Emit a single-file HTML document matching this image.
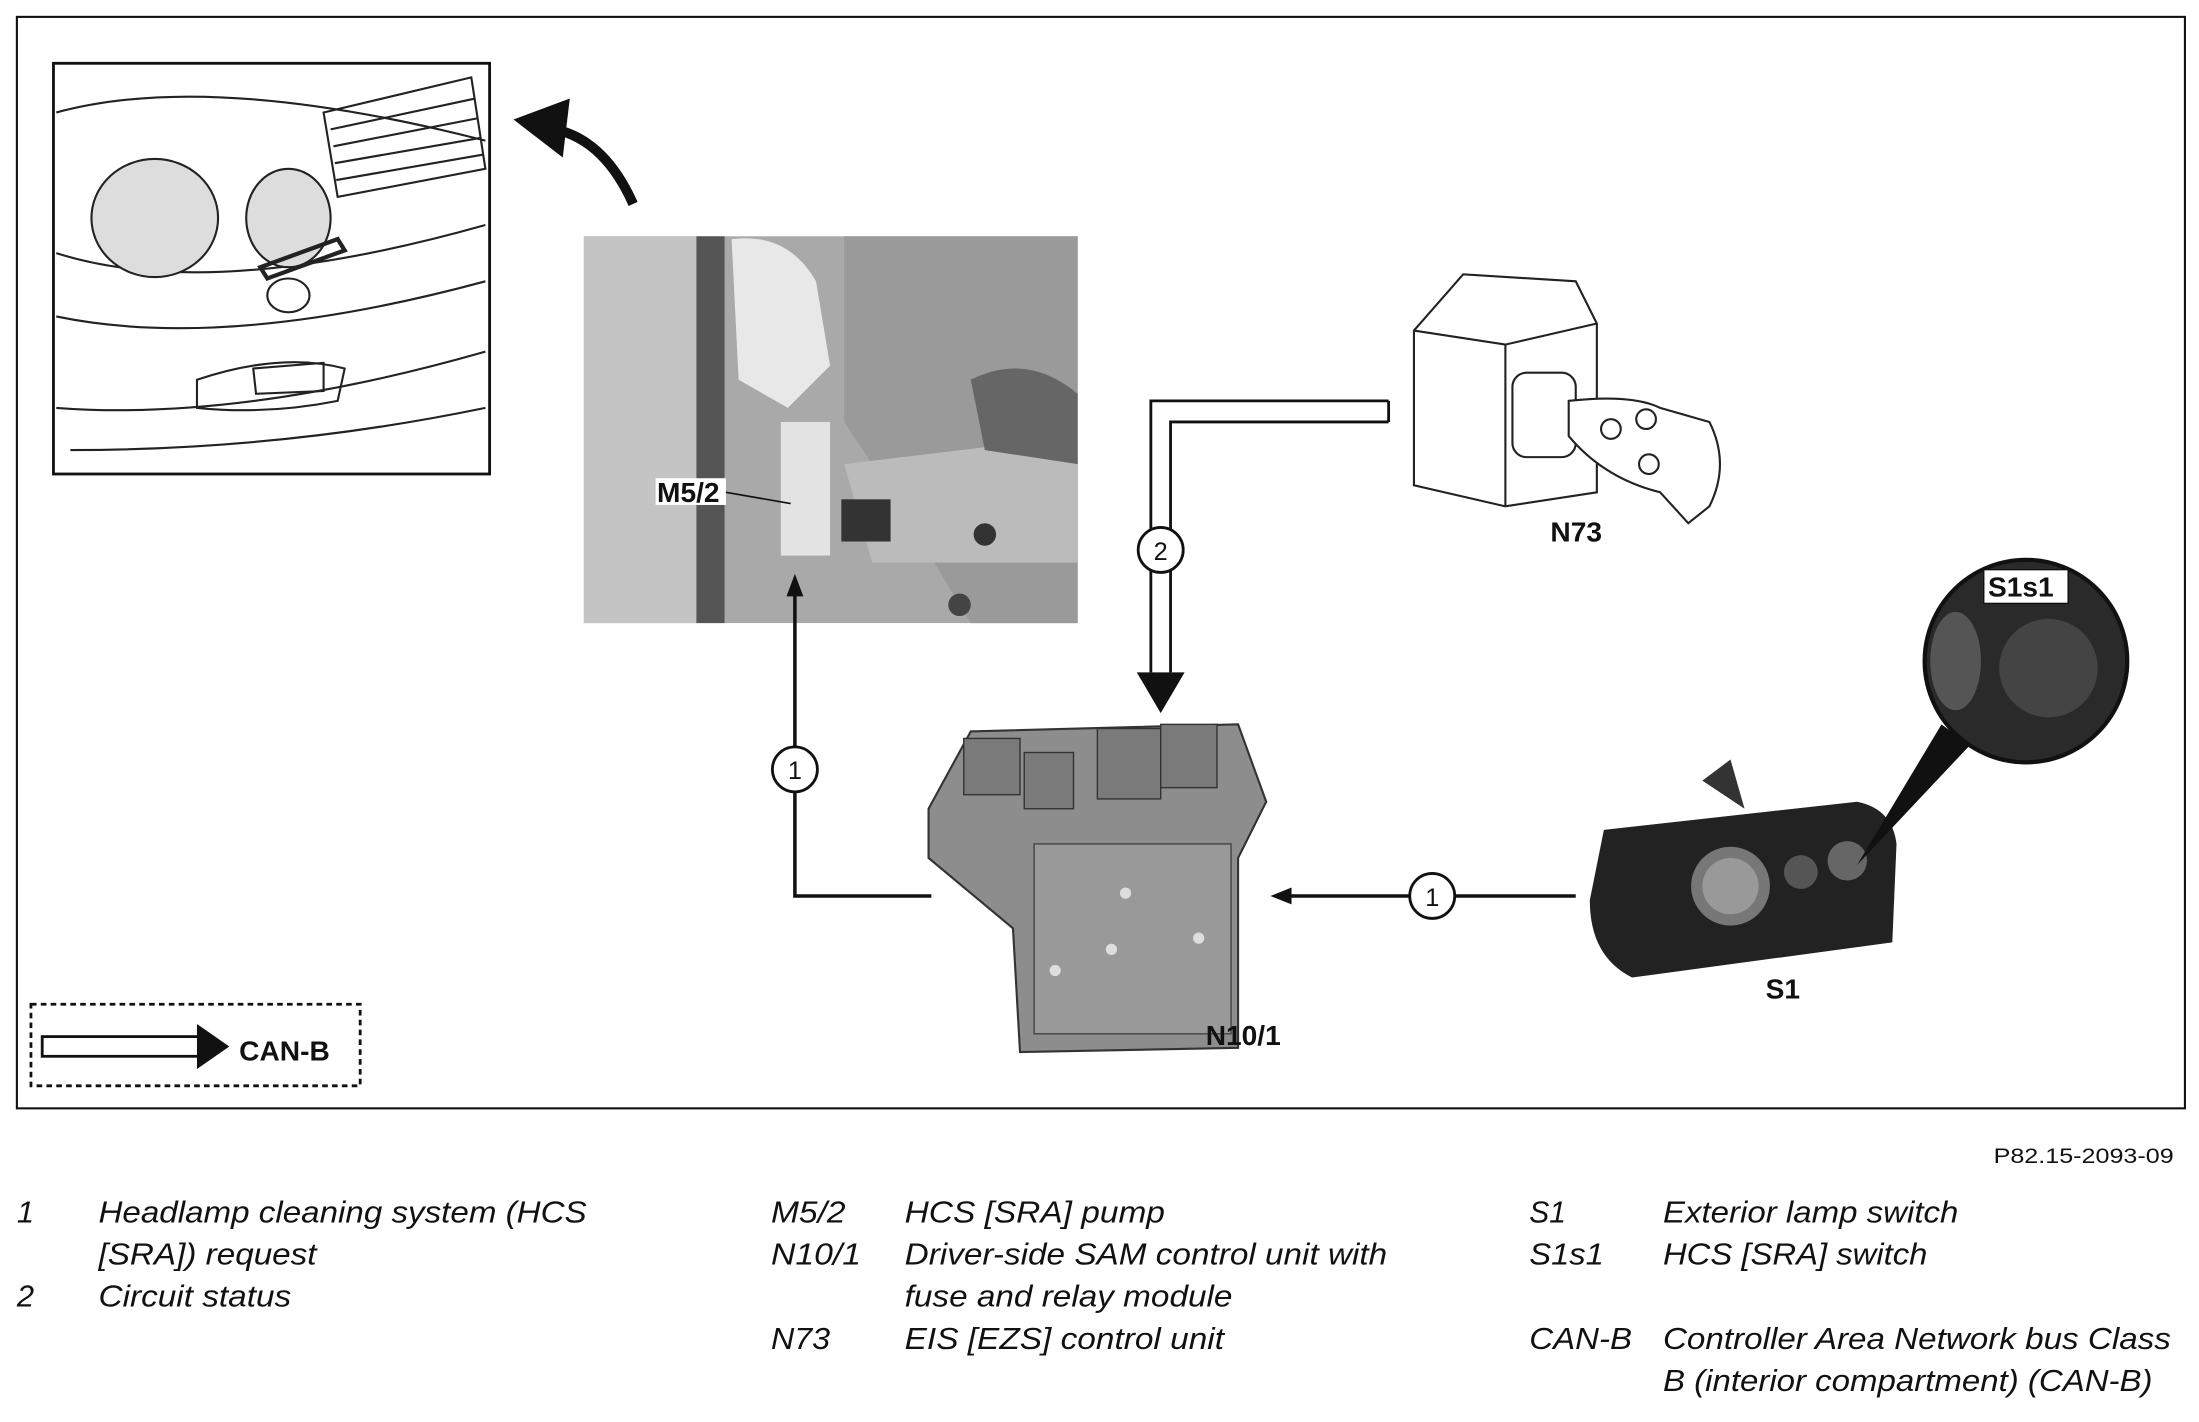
<!DOCTYPE html>
<html><head><meta charset="utf-8"><style>
html,body{margin:0;padding:0;background:#fff}
svg{display:block}
.lg{font-family:"Liberation Sans",sans-serif;font-style:italic;font-size:22px;fill:#111}
.lb{font-family:"Liberation Sans",sans-serif;font-weight:bold;font-size:20px;fill:#111}
.cn{font-family:"Liberation Sans",sans-serif;font-size:18px;fill:#111;text-anchor:middle}
</style></head><body>
<svg width="2199" height="1422" viewBox="0 0 1563 1011" preserveAspectRatio="none" xmlns="http://www.w3.org/2000/svg">
<rect x="0" y="0" width="1563" height="1011" fill="#fff"/>
<rect x="12" y="12" width="1541" height="776" fill="none" stroke="#111" stroke-width="1.5"/>

<!-- car sketch -->
<rect x="38" y="45" width="310" height="292" fill="#fff" stroke="#111" stroke-width="2"/>
<g fill="none" stroke="#222" stroke-width="1.5">
<path d="M40 80 Q150 50 345 100"/>
<path d="M40 180 Q150 215 345 160"/>
<path d="M40 225 Q160 250 345 200"/>
<path d="M40 290 Q170 300 345 250"/>
<path d="M50 320 Q200 320 345 290"/>
<ellipse cx="110" cy="155" rx="45" ry="42" fill="#ddd"/>
<ellipse cx="205" cy="155" rx="30" ry="35" fill="#ddd"/>
<path d="M230 80 L335 55 L345 120 L240 140 Z"/>
<path d="M235 92 L338 70 M237 104 L340 84 M238 116 L342 98 M239 128 L343 110"/>
<path d="M185 190 L240 170 L245 178 L190 198 Z" stroke-width="3"/>
<ellipse cx="205" cy="210" rx="15" ry="12"/>
<path d="M140 270 Q200 250 245 262 L240 285 Q190 295 140 290 Z"/>
<path d="M180 262 L230 258 L230 278 L182 280 Z"/>
</g>
<!-- curved arrow -->
<path d="M450 145 Q430 100 395 92" fill="none" stroke="#111" stroke-width="7"/>
<polygon points="365,85 405,70 400,112" fill="#111"/>

<!-- photo M5/2 -->
<rect x="415" y="168" width="351" height="275" fill="#a9a9a9"/>
<rect x="415" y="168" width="80" height="275" fill="#c4c4c4"/>
<rect x="495" y="168" width="20" height="275" fill="#555"/>
<path d="M600 168 L766 168 L766 443 L690 443 L640 360 L600 300 Z" fill="#9a9a9a"/>
<path d="M520 170 Q560 165 580 200 L590 260 L560 290 L525 270 Z" fill="#e8e8e8"/>
<rect x="555" y="300" width="35" height="95" fill="#e3e3e3"/>
<path d="M600 330 L766 310 L766 400 L620 400 Z" fill="#bbb"/>
<circle cx="700" cy="380" r="8" fill="#333"/>
<circle cx="682" cy="430" r="8" fill="#444"/>
<path d="M690 270 Q730 250 766 280 L766 330 L700 320 Z" fill="#666"/>
<rect x="598" y="355" width="35" height="30" fill="#333"/>
<rect x="466" y="340" width="50" height="19" fill="#fff"/>
<text x="467" y="357" class="lb" font-size="18">M5/2</text>
<line x1="516" y1="350" x2="562" y2="358" stroke="#111" stroke-width="1.2"/>

<!-- connector 1 left -->
<polyline points="662,637 565,637 565,420" fill="none" stroke="#111" stroke-width="2.5"/>
<polygon points="565,408 559,424 571,424" fill="#111"/>
<circle cx="565" cy="547" r="16" fill="#fff" stroke="#111" stroke-width="2"/>
<text x="565" y="554" class="cn">1</text>

<!-- connector 2 double line -->
<polyline points="987,285 818,285 818,478" fill="none" stroke="#111" stroke-width="2"/>
<polyline points="987,300 832,300 832,478" fill="none" stroke="#111" stroke-width="2"/>
<line x1="987" y1="285" x2="987" y2="300" stroke="#111" stroke-width="2"/>
<polygon points="808,478 842,478 825,507" fill="#111"/>
<circle cx="825" cy="391" r="16" fill="#fff" stroke="#111" stroke-width="2"/>
<text x="825" y="398" class="cn">2</text>

<!-- N10/1 module -->
<path d="M660 575 L690 520 L880 515 L900 570 L880 610 L880 745 L725 748 L720 660 L660 610 Z" fill="#8d8d8d" stroke="#333" stroke-width="1.5"/>
<rect x="685" y="525" width="40" height="40" fill="#7a7a7a" stroke="#333"/>
<rect x="728" y="535" width="35" height="40" fill="#7a7a7a" stroke="#333"/>
<rect x="780" y="518" width="45" height="50" fill="#7a7a7a" stroke="#333"/>
<rect x="825" y="515" width="40" height="45" fill="#7a7a7a" stroke="#333"/>
<rect x="735" y="600" width="140" height="135" fill="#999" stroke="#444"/>
<circle cx="800" cy="635" r="4" fill="#ddd"/><circle cx="790" cy="675" r="4" fill="#ddd"/><circle cx="852" cy="667" r="4" fill="#ddd"/><circle cx="750" cy="690" r="4" fill="#ddd"/>
<text x="857" y="743" class="lb">N10/1</text>

<!-- connector 1 right -->
<line x1="1120" y1="637" x2="915" y2="637" stroke="#111" stroke-width="2.5"/>
<polygon points="903,637 918,631 918,643" fill="#111"/>
<circle cx="1018" cy="637" r="16" fill="#fff" stroke="#111" stroke-width="2"/>
<text x="1018" y="644" class="cn">1</text>

<!-- N73 ignition -->
<g fill="#fff" stroke="#222" stroke-width="1.5">
<path d="M1005 235 L1040 195 L1120 200 L1135 230 L1135 350 L1070 360 L1005 345 Z"/>
<path d="M1005 235 L1070 245 L1135 230"/>
<path d="M1070 245 L1070 360"/>
<rect x="1075" y="265" width="45" height="60" rx="10"/>
<path d="M1115 285 Q1160 280 1180 290 L1215 300 Q1230 330 1215 360 L1200 372 L1180 350 Q1140 340 1115 310 Z"/>
<circle cx="1145" cy="305" r="7"/><circle cx="1170" cy="298" r="7"/><circle cx="1172" cy="330" r="7"/>
</g>
<text x="1102" y="385" class="lb">N73</text>

<!-- S1 switch -->
<path d="M1140 590 L1320 570 Q1345 575 1348 600 L1345 670 L1160 695 Q1130 680 1130 640 Z" fill="#222"/>
<path d="M1210 555 L1230 540 L1240 575 Z" fill="#333"/>
<circle cx="1230" cy="630" r="28" fill="#777"/>
<circle cx="1230" cy="630" r="20" fill="#999"/>
<circle cx="1280" cy="620" r="12" fill="#555"/>
<circle cx="1313" cy="612" r="14" fill="#666"/>
<text x="1255" y="710" class="lb">S1</text>
<!-- magnifier -->
<polygon points="1320,615 1380,515 1400,530" fill="#111"/>
<circle cx="1440" cy="470" r="72" fill="#2a2a2a" stroke="#111" stroke-width="3"/>
<circle cx="1456" cy="475" r="35" fill="#444"/>
<ellipse cx="1390" cy="470" rx="18" ry="35" fill="#555"/>
<rect x="1410" y="405" width="60" height="24" fill="#fff" stroke="#111"/>
<text x="1413" y="424" class="lb">S1s1</text>

<!-- CAN-B legend -->
<rect x="22" y="714" width="234" height="58" fill="none" stroke="#111" stroke-width="2" stroke-dasharray="4,3"/>
<rect x="30" y="737" width="112" height="14" fill="#fff" stroke="#111" stroke-width="2"/>
<polygon points="140,728 163,744 140,760" fill="#111"/>
<text x="170" y="754" class="lb">CAN-B</text>

<text x="1545" y="827" font-family="Liberation Sans,sans-serif" font-size="15" text-anchor="end" fill="#111" textLength="128" lengthAdjust="spacingAndGlyphs">P82.15-2093-09</text>

<!-- legend -->
<text class="lg" x="12" y="869">1</text>
<text class="lg" x="70" y="869" textLength="347" lengthAdjust="spacingAndGlyphs">Headlamp cleaning system (HCS</text>
<text class="lg" x="70" y="899" textLength="155" lengthAdjust="spacingAndGlyphs">[SRA]) request</text>
<text class="lg" x="12" y="929">2</text>
<text class="lg" x="70" y="929" textLength="137" lengthAdjust="spacingAndGlyphs">Circuit status</text>
<text class="lg" x="548" y="869" textLength="53" lengthAdjust="spacingAndGlyphs">M5/2</text>
<text class="lg" x="643" y="869" textLength="185" lengthAdjust="spacingAndGlyphs">HCS [SRA] pump</text>
<text class="lg" x="548" y="899" textLength="64" lengthAdjust="spacingAndGlyphs">N10/1</text>
<text class="lg" x="643" y="899" textLength="343" lengthAdjust="spacingAndGlyphs">Driver-side SAM control unit with</text>
<text class="lg" x="643" y="929" textLength="233" lengthAdjust="spacingAndGlyphs">fuse and relay module</text>
<text class="lg" x="548" y="959" textLength="42" lengthAdjust="spacingAndGlyphs">N73</text>
<text class="lg" x="643" y="959" textLength="227" lengthAdjust="spacingAndGlyphs">EIS [EZS] control unit</text>
<text class="lg" x="1087" y="869" textLength="26" lengthAdjust="spacingAndGlyphs">S1</text>
<text class="lg" x="1182" y="869" textLength="210" lengthAdjust="spacingAndGlyphs">Exterior lamp switch</text>
<text class="lg" x="1087" y="899" textLength="53" lengthAdjust="spacingAndGlyphs">S1s1</text>
<text class="lg" x="1182" y="899" textLength="188" lengthAdjust="spacingAndGlyphs">HCS [SRA] switch</text>
<text class="lg" x="1087" y="959" textLength="73" lengthAdjust="spacingAndGlyphs">CAN-B</text>
<text class="lg" x="1182" y="959" textLength="361" lengthAdjust="spacingAndGlyphs">Controller Area Network bus Class</text>
<text class="lg" x="1182" y="989" textLength="348" lengthAdjust="spacingAndGlyphs">B (interior compartment) (CAN-B)</text>
</svg>
</body></html>
